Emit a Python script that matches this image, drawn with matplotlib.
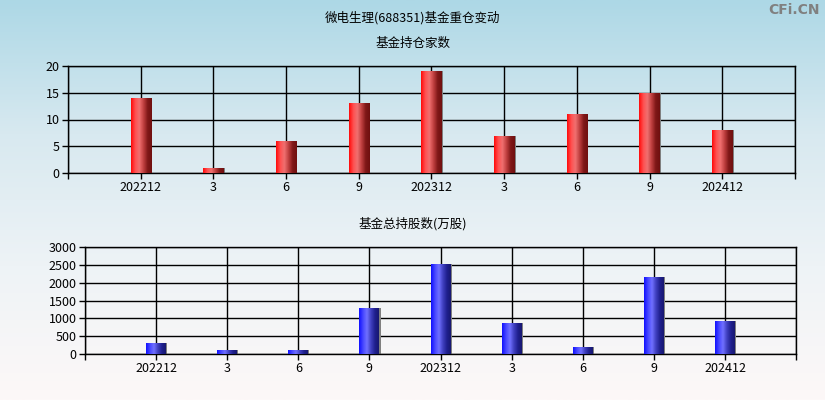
import numpy as np
import matplotlib
matplotlib.use("Agg")
from matplotlib import pyplot as plt
from matplotlib.colors import LinearSegmentedColormap

plt.rcParams['font.family'] = ['Noto Sans CJK SC', 'DejaVu Sans']

periods = ['202212', '3', '6', '9', '202312', '3', '6', '9', '202412']
fund_count = [14, 1, 6, 13, 19, 7, 11, 15, 8]
fund_shares = [310, 110, 110, 1300, 2530, 870, 200, 2165, 930]

TITLE = '微电生理(688351)基金重仓变动'
TOP_TITLE = '基金持仓家数'
BOTTOM_TITLE = '基金总持股数(万股)'

red_cmap = LinearSegmentedColormap.from_list(
    'red_bar', ['#ff0a0a', '#ff5050', '#f07070', '#c04040', '#801818', '#701010'])
blue_cmap = LinearSegmentedColormap.from_list(
    'blue_bar', ['#1010ff', '#4848ff', '#7070ff', '#4040c0', '#202090', '#181870'])


def draw_panel(ax, values, cmap, ymax, ystep):
    x = np.arange(len(values))
    bars = ax.bar(x, values, width=0.28, color='none', edgecolor='none', zorder=3)
    grad = np.linspace(0, 1, 64).reshape(1, -1)
    for b in bars:
        bx, by = b.get_x(), b.get_y()
        w, h = b.get_width(), b.get_height()
        # thin grey shadow on right edge
        ax.bar(bx + w + 0.008, h, width=0.016, bottom=by, color='#808080', zorder=2.5)
        im = ax.imshow(grad, cmap=cmap, aspect='auto', extent=(bx, bx + w, by, by + h),
                       zorder=3, interpolation='bilinear')
        im.set_clip_path(b)
    ax.set_xlim(-1, len(values))
    ax.set_ylim(0, ymax)
    ax.set_xticks(np.arange(-1, len(values) + 1))
    ax.set_xticklabels([''] + periods + [''])
    ax.set_yticks(np.arange(0, ymax + 1, ystep))
    ax.grid(True, color='black', linewidth=1.0, zorder=1)
    ax.set_axisbelow(True)
    ax.tick_params(direction='out', length=4, width=1, colors='black',
                   labelsize=9, pad=2)
    for s in ax.spines.values():
        s.set_color('black')
        s.set_linewidth(1.0)
    ax.patch.set_alpha(0)


fig = plt.figure(figsize=(8.25, 4.0), dpi=100)

# background gradient
bg = fig.add_axes([0, 0, 1, 1], zorder=-10)
bg_cmap = LinearSegmentedColormap.from_list(
    'bg', ['#fdf8f8', '#eef3f6', '#d8e9f0', '#add8e6'])
bg.imshow(np.linspace(0, 1, 256).reshape(-1, 1), cmap=bg_cmap, aspect='auto',
          origin='lower', extent=(0, 1, 0, 1))
bg.set_axis_off()

ax1 = fig.add_axes([0.0824, 0.5675, 0.8812, 0.2675])
draw_panel(ax1, fund_count, red_cmap, 20, 5)

ax2 = fig.add_axes([0.103, 0.115, 0.862, 0.2675])
draw_panel(ax2, fund_shares, blue_cmap, 3000, 500)

fig.text(0.5, 1 - 18 / 400, TITLE, ha='center', va='center', fontsize=9)
fig.text(0.5, 1 - 43 / 400, TOP_TITLE, ha='center', va='center', fontsize=9)
fig.text(0.5, 1 - 224 / 400, BOTTOM_TITLE, ha='center', va='center', fontsize=9)
fig.text(0.994, 1 - 10 / 400, 'CFi.CN', ha='right', va='center', fontsize=10,
         color='#808080', fontweight='bold', family=['DejaVu Sans'])

fig.savefig('out.png', dpi=100)
